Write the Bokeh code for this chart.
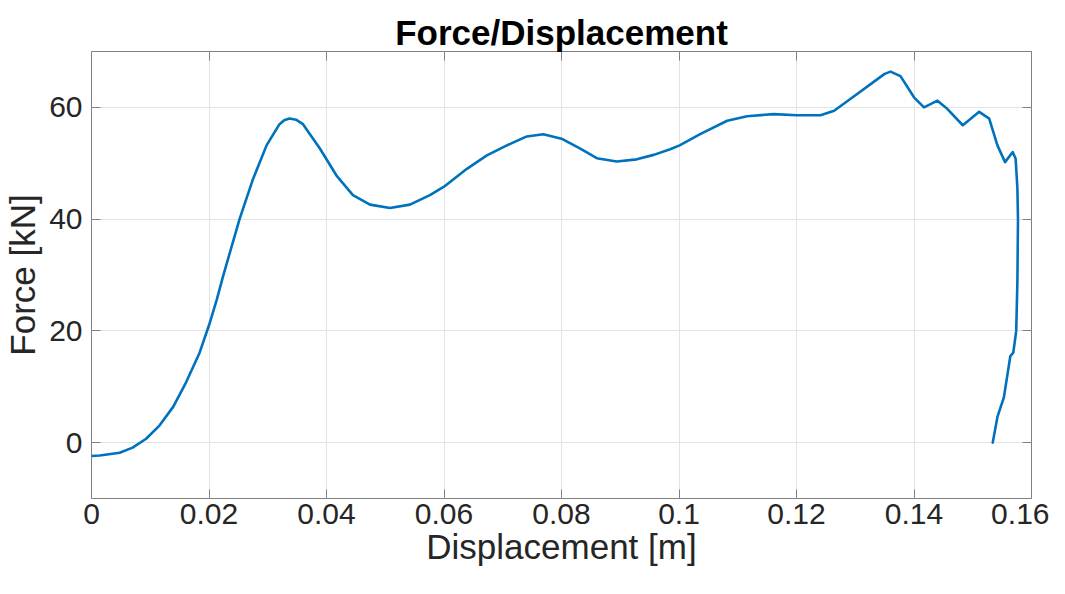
from bokeh.plotting import figure
from bokeh.models import LinearAxis, FixedTicker, CustomJSTickFormatter, Range1d
from bokeh.embed import file_html
from bokeh.resources import INLINE

# ---- data ----
displacement_m = [
    0.0000, 0.0014, 0.0048, 0.0070, 0.0093, 0.0116, 0.0139, 0.0161, 0.0184,
    0.0200, 0.0213, 0.0224, 0.0252, 0.0275, 0.0298, 0.0320, 0.0328, 0.0337,
    0.0348, 0.0360, 0.0389, 0.0417, 0.0445, 0.0474, 0.0508, 0.0542, 0.0576,
    0.0600, 0.0639, 0.0673, 0.0707, 0.0741, 0.0769, 0.0800, 0.0832, 0.0860,
    0.0894, 0.0928, 0.0957, 0.0985, 0.1001, 0.1036, 0.1082, 0.1116, 0.1161,
    0.1201, 0.1241, 0.1264, 0.1298, 0.1332, 0.1350, 0.1360, 0.1377, 0.1400,
    0.1417, 0.1440, 0.1457, 0.1483, 0.1511, 0.1528, 0.1542, 0.1555, 0.1568,
    0.1573, 0.1576, 0.1577, 0.1576, 0.1574, 0.1569, 0.1564, 0.1553, 0.1542,
    0.1534,
]
force_kN = [
    -2.4, -2.3, -1.8, -0.9, 0.7, 3.1, 6.4, 10.8, 16.1,
    21.0, 25.5, 29.8, 40.0, 47.2, 53.2, 57.0, 57.7, 58.0,
    57.8, 57.0, 52.6, 47.8, 44.3, 42.6, 42.0, 42.6, 44.3,
    45.8, 49.0, 51.4, 53.2, 54.8, 55.2, 54.4, 52.6, 50.9,
    50.3, 50.7, 51.5, 52.5, 53.2, 55.2, 57.6, 58.4, 58.8,
    58.6, 58.6, 59.4, 62.0, 64.6, 66.0, 66.4, 65.6, 61.8,
    60.0, 61.2, 59.7, 56.8, 59.2, 58.0, 53.2, 50.2, 52.0,
    50.8, 45.5, 40.0, 28.9, 20.0, 16.1, 15.5, 8.1, 4.6,
    0.0,
]

x_ticks = [0, 0.02, 0.04, 0.06, 0.08, 0.1, 0.12, 0.14, 0.16]
x_tick_labels = ["0", "0.02", "0.04", "0.06", "0.08", "0.1", "0.12", "0.14", "0.16"]
y_ticks = [0, 20, 40, 60]
y_tick_labels = ["0", "20", "40", "60"]

title_text = "Force/Displacement"
x_label = "Displacement [m]"
y_label = "Force [kN]"

FONT = "Liberation Sans"
TICK_COLOR = "#262626"
FRAME_COLOR = "#808080"

p = figure(
    width=1049, height=578,
    output_backend="svg", toolbar_location=None,
    x_range=Range1d(0, 0.16), y_range=Range1d(-10, 70),
    min_border_left=86, min_border_right=18,
    min_border_top=51, min_border_bottom=80,
    background_fill_color="white", border_fill_color="white",
    outline_line_color=FRAME_COLOR, outline_line_width=1,
)

p.title.text = title_text
p.title.text_font = FONT
p.title.text_font_size = "35px"
p.title.text_font_style = "bold"
p.title.text_color = "black"
p.title.align = "center"
p.title.standoff = 0

label_js = "const i = tvals.findIndex(t => Math.abs(t - tick) < 1e-9); return i >= 0 ? tlabels[i] : '';"
x_fmt = CustomJSTickFormatter(args=dict(tvals=x_ticks, tlabels=x_tick_labels), code=label_js)
y_fmt = CustomJSTickFormatter(args=dict(tvals=y_ticks, tlabels=y_tick_labels), code=label_js)
blank = CustomJSTickFormatter(code="return '';")


def style_axis(ax, ticks, fmt):
    ax.ticker = FixedTicker(ticks=ticks)
    ax.formatter = fmt
    ax.axis_line_color = None
    ax.major_tick_in = 9
    ax.major_tick_out = 0
    ax.major_tick_line_color = FRAME_COLOR
    ax.major_tick_line_width = 1
    ax.minor_tick_line_color = None
    ax.major_label_text_font = FONT
    ax.major_label_text_font_size = "30px"
    ax.major_label_text_color = TICK_COLOR
    ax.axis_label_text_font = FONT
    ax.axis_label_text_font_size = "35px"
    ax.axis_label_text_font_style = "normal"
    ax.axis_label_text_color = TICK_COLOR


xa = p.xaxis[0]
ya = p.yaxis[0]
style_axis(xa, x_ticks, x_fmt)
style_axis(ya, y_ticks, y_fmt)
xa.axis_label = x_label
ya.axis_label = y_label
xa.major_label_standoff = 5
ya.major_label_standoff = 9
xa.axis_label_standoff = 0
ya.axis_label_standoff = 4

top = LinearAxis()
style_axis(top, x_ticks, blank)
top.major_label_standoff = 0
top.major_label_text_font_size = "0px"
p.add_layout(top, "above")

right = LinearAxis()
style_axis(right, y_ticks, blank)
right.major_label_standoff = 0
right.major_label_text_font_size = "0px"
p.add_layout(right, "right")

p.xgrid.ticker = FixedTicker(ticks=x_ticks)
p.ygrid.ticker = FixedTicker(ticks=y_ticks)
p.xgrid.grid_line_color = "#e3e3e3"
p.ygrid.grid_line_color = "#e3e3e3"

p.line(displacement_m, force_kN, line_color="#0072BD", line_width=2.6,
       line_join="round", line_cap="round")

open("out.html", "w").write(file_html(p, INLINE))
